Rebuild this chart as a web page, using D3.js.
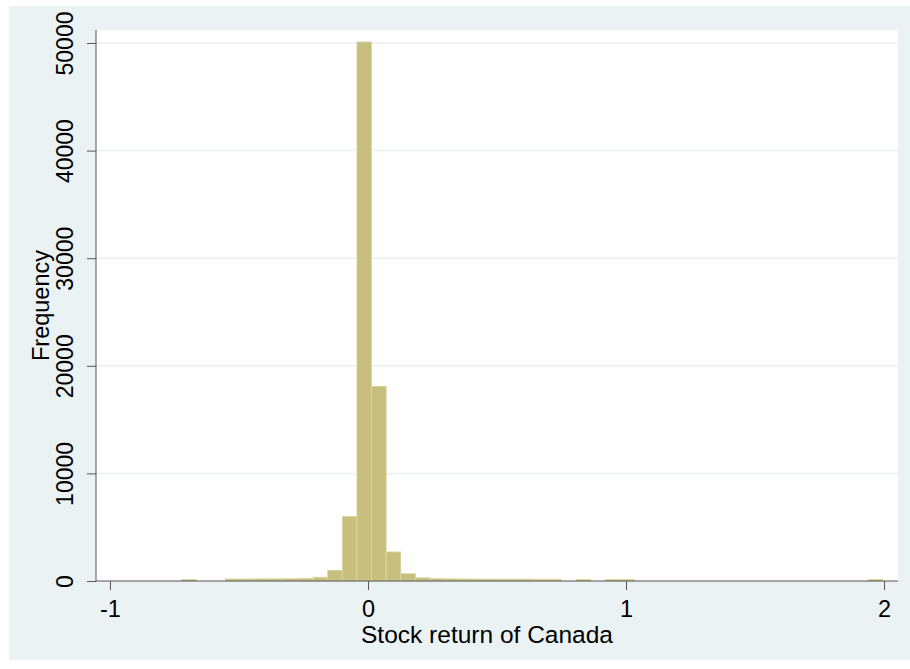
<!DOCTYPE html>
<html>
<head>
<meta charset="utf-8">
<script src="https://cdn.jsdelivr.net/npm/d3@7"></script>
<style>
  html, body { margin: 0; padding: 0; background: #fff; }
  text { font-family: "Liberation Sans", Arial, sans-serif; fill: #000; }
</style>
</head>
<body>
<div id="chart"></div>
<script>
// histogram of Stata-style output: 48 equal bins
const binStart = -0.722;
const binWidth = 0.0566;
const counts = [150, 0, 0, 190, 190, 200, 200, 210, 250, 350, 1000, 6000, 50100, 18100, 2700, 680,
  300, 220, 200, 190, 180, 180, 170, 170, 160, 160, 0, 150, 0, 150, 150,
  0, 0, 0, 0, 0, 0, 0, 0, 0, 0, 0, 0, 0, 0, 0, 0, 150];
const xTicks = [-1, 0, 1, 2];
const yTicks = [0, 10000, 20000, 30000, 40000, 50000];
const xTitle = "Stock return of Canada";
const yTitle = "Frequency";

const W = 910, H = 669;
const margin = {left: 96, right: 12, top: 30, bottom: 88};

const svg = d3.select('#chart').append('svg')
  .attr('width', W)
  .attr('height', H);

// outer graph region
svg.append('rect')
  .attr('x', 9).attr('y', 6)
  .attr('width', W - 9).attr('height', 654)
  .attr('fill', '#eaf2f3');

// plot region
svg.append('rect')
  .attr('x', margin.left).attr('y', margin.top)
  .attr('width', W - margin.left - margin.right)
  .attr('height', H - margin.top - margin.bottom)
  .attr('fill', '#fff');

var x = d3.scaleLinear()
  .domain([-1.054, 2.054])
  .range([margin.left, W - margin.right]);

var y = d3.scaleLinear()
  .domain([0, 51208])
  .range([H - margin.bottom, margin.top]);

// gridlines
svg.append('g')
  .selectAll('line')
  .data(yTicks.filter(d => d > 0))
  .enter().append('line')
    .attr('x1', margin.left).attr('x2', W - margin.right)
    .attr('y1', d => y(d)).attr('y2', d => y(d))
    .attr('stroke', '#e6f0f2')
    .attr('stroke-width', 1.5);

// bars
var bins = counts.map((c, i) => ({x0: binStart + i * binWidth, x1: binStart + (i + 1) * binWidth, n: c}));

svg.append('g')
  .selectAll('rect')
  .data(bins.filter(d => d.n > 0))
  .enter().append('rect')
    .attr('x', d => x(d.x0))
    .attr('width', d => x(d.x1) - x(d.x0))
    .attr('y', d => y(d.n))
    .attr('height', d => y(0) - y(d.n))
    .attr('fill', '#c8bf7e')
    .attr('stroke', '#dcd6a6')
    .attr('stroke-width', 0.8);

// axes (plain hyphen for negatives, like the original)
var fmt = d => String(d);
var xAxis = d3.axisBottom(x).tickValues(xTicks).tickSize(9).tickFormat(fmt);
var yAxis = d3.axisLeft(y).tickValues(yTicks).tickSize(9).tickFormat(fmt);

var gx = svg.append('g')
  .attr('transform', 'translate(0,' + (H - margin.bottom) + ')')
  .call(xAxis);
gx.select('.domain').attr('d', 'M' + margin.left + ',0H' + (W - margin.right));
gx.selectAll('line').attr('stroke', '#555');
gx.select('.domain').attr('stroke', '#555');
gx.selectAll('text')
  .attr('y', 35.5)
  .attr('dy', null)
  .style('font-size', '23.5px')
  .style('font-family', '"Liberation Sans", Arial, sans-serif')
  .attr('fill', '#000');

var gy = svg.append('g')
  .attr('transform', 'translate(' + margin.left + ',0)')
  .call(yAxis);
gy.select('.domain').attr('d', 'M0,' + margin.top + 'V' + (H - margin.bottom));
gy.selectAll('line').attr('stroke', '#555');
gy.select('.domain').attr('stroke', '#555');
gy.selectAll('.tick text')
  .attr('x', null).attr('dy', null)
  .attr('text-anchor', 'middle')
  .attr('transform', 'translate(-23,0) rotate(-90)')
  .style('font-size', '23px')
  .style('font-family', '"Liberation Sans", Arial, sans-serif')
  .attr('fill', '#000');

// titles
svg.append('text')
  .attr('x', 487)
  .attr('y', 643)
  .attr('text-anchor', 'middle')
  .style('font-size', '24.5px')
  .text(xTitle);

svg.append('text')
  .attr('transform', 'translate(49,' + ((margin.top + H - margin.bottom) / 2) + ') rotate(-90)')
  .attr('text-anchor', 'middle')
  .style('font-size', '23.5px')
  .text(yTitle);
</script>
</body>
</html>
